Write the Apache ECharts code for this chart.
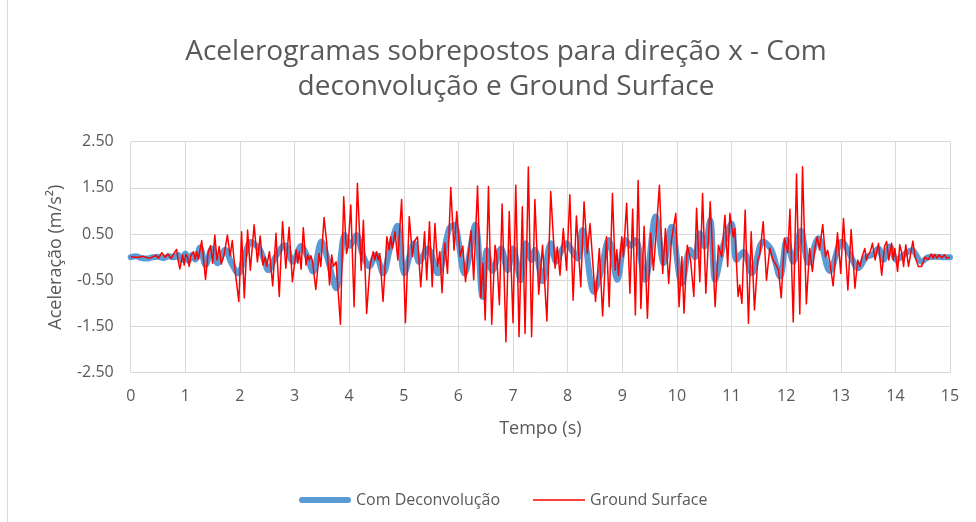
<!DOCTYPE html>
<html><head><meta charset="utf-8">
<script src="https://cdn.jsdelivr.net/npm/echarts@6/dist/echarts.min.js"></script>
<style>html,body{margin:0;padding:0;background:#fff}#c{width:976px;height:522px}</style>
</head><body><div id="c"></div><script>
const titleLines = ['Acelerogramas sobrepostos para direção x - Com', 'deconvolução e Ground Surface'];
const xAxisName = 'Tempo (s)';
const yAxisName = 'Aceleração (m/s²)';
const seriesNames = ['Com Deconvolução', 'Ground Surface'];

// "Com Deconvolução" (blue, thick) – time (s) and acceleration (m/s²)
const blueTime = [0.00,0.10,0.20,0.30,0.40,0.50,0.60,0.70,0.80,0.87,
  0.93,1.00,1.06,1.12,1.18,1.27,1.37,1.49,1.59,1.73,
  1.84,1.97,2.09,2.20,2.30,2.36,2.44,2.52,2.65,2.82,
  2.97,3.12,3.22,3.34,3.49,3.62,3.76,3.92,4.02,4.13,
  4.25,4.37,4.49,4.62,4.75,4.88,5.01,5.19,5.28,5.44,
  5.62,5.83,5.92,6.11,6.31,6.44,6.52,6.62,6.78,6.90,
  7.00,7.14,7.23,7.34,7.40,7.54,7.69,7.79,7.88,7.98,
  8.10,8.18,8.27,8.48,8.60,8.75,8.91,9.06,9.15,9.24,
  9.42,9.61,9.76,9.90,10.09,10.24,10.33,10.42,10.51,10.61,
  10.70,10.85,11.00,11.09,11.22,11.37,11.58,11.73,11.89,12.01,
  12.13,12.27,12.41,12.59,12.80,13.02,13.17,13.32,13.47,13.58,
  13.69,13.78,13.90,14.02,14.15,14.30,14.48,14.60,14.75,14.90,
  15.00];
const blueAccel = [0.00,0.02,-0.02,-0.03,0.00,0.01,-0.02,0.02,0.00,0.05,
  -0.06,0.08,-0.08,0.05,-0.05,0.21,-0.17,0.19,-0.13,0.16,
  -0.12,-0.35,0.05,0.33,0.25,0.18,-0.05,-0.28,0.00,0.26,
  -0.10,0.24,0.05,-0.31,0.34,-0.10,-0.67,0.48,0.25,0.48,
  0.05,-0.20,0.05,-0.35,0.20,0.68,-0.35,0.30,-0.10,0.19,
  -0.35,0.62,0.70,-0.35,0.70,-0.86,0.15,-0.30,0.19,-0.28,
  0.19,-0.50,0.30,-0.06,0.16,-0.52,0.30,-0.10,0.12,0.30,
  0.10,-0.03,0.59,-0.75,-0.35,0.37,-0.49,0.37,0.25,0.37,
  -0.49,0.88,-0.13,0.66,-0.57,0.16,0.00,0.52,0.23,0.80,
  -0.49,0.26,0.73,-0.06,0.12,-0.35,0.34,0.16,-0.42,0.38,
  -0.10,0.57,-0.12,0.41,-0.30,0.34,0.05,-0.24,0.01,0.05,
  0.19,-0.06,0.23,-0.06,0.05,0.15,-0.10,0.00,0.01,0.00,
  0.00];

// "Ground Surface" (red, thin) – time (s) and acceleration (m/s²)
const redTime = [0.00,0.08,0.15,0.23,0.32,0.38,0.46,0.51,0.57,0.63,
  0.68,0.74,0.79,0.84,0.87,0.90,0.95,0.98,1.01,1.04,
  1.07,1.10,1.15,1.18,1.21,1.24,1.30,1.37,1.42,1.46,
  1.50,1.54,1.58,1.62,1.66,1.71,1.77,1.82,1.86,1.91,
  1.98,2.03,2.08,2.14,2.19,2.26,2.32,2.37,
  2.42,2.46,2.49,2.54,2.60,2.66,2.72,2.78,2.84,2.90,
  2.96,3.03,3.06,3.09,3.12,3.16,3.21,3.24,3.27,3.30,
  3.33,3.39,3.45,3.48,3.54,3.59,3.64,3.68,3.71,3.76,
  3.84,3.90,3.95,3.98,4.03,4.09,4.15,4.22,4.26,4.32,
  4.38,4.44,4.47,4.50,4.53,4.56,4.62,4.69,4.73,4.76,
  4.79,4.84,
  4.89,4.96,5.03,5.10,5.16,5.19,5.25,5.31,5.38,5.42,
  5.47,5.52,5.57,5.62,5.66,5.70,5.75,5.80,5.86,5.92,
  5.97,6.03,6.08,6.13,6.18,6.23,6.28,6.35,6.41,6.45,
  6.49,6.55,6.61,6.67,6.70,6.75,6.80,6.87,6.93,7.00,
  7.05,7.11,7.17,7.22,7.28,7.34,7.40,7.47,7.54,7.62,
  7.69,
  7.77,7.81,7.86,7.92,7.98,8.04,8.10,8.16,8.24,8.30,
  8.36,8.41,8.47,8.51,8.58,8.64,8.71,8.76,8.82,8.87,
  8.90,8.93,8.99,9.02,9.08,9.14,9.19,9.24,9.29,9.34,
  9.40,9.46,9.52,9.57,9.62,9.68,9.74,9.79,9.85,9.90,
  9.93,9.98,
  10.04,10.09,10.13,10.19,10.25,10.31,10.36,10.42,10.47,10.53,
  10.61,10.70,10.76,10.82,10.88,10.93,10.97,11.03,11.06,11.12,
  11.15,11.19,11.25,11.31,11.36,11.42,11.48,11.52,11.58,11.64,
  11.70,11.76,11.83,11.86,11.91,11.97,12.03,12.07,12.13,12.19,
  12.25,12.30,12.37,12.43,12.48,12.53,12.57,12.61,12.67,12.72,
  12.76,12.80,12.86,
  12.94,13.00,13.05,13.13,13.19,13.26,13.31,13.35,13.39,13.44,
  13.47,13.50,13.54,13.58,13.63,13.69,13.75,13.80,13.84,13.88,
  13.93,13.96,13.99,14.04,14.08,14.12,14.15,14.19,14.24,14.27,
  14.32,14.36,14.42,14.48,14.54,14.60,14.66,14.69,14.72,14.76,
  14.80,14.85,14.90,14.94,15.00];
const redAccel = [0.01,0.00,0.00,0.02,-0.02,-0.01,0.04,-0.02,0.10,0.00,
  0.07,-0.03,0.08,0.17,-0.08,-0.25,0.05,-0.17,0.06,0.00,
  -0.20,0.03,0.12,-0.05,0.12,-0.04,0.36,-0.48,0.12,0.25,
  -0.13,0.48,-0.06,0.23,-0.15,0.05,0.48,0.03,0.36,-0.28,
  -0.96,0.55,-0.88,0.59,-0.28,0.70,-0.10,0.46,
  -0.17,0.00,-0.20,0.12,-0.62,0.52,-0.85,0.77,-0.24,0.65,
  -0.53,0.16,-0.13,0.12,-0.26,0.64,-0.17,0.05,-0.06,0.03,
  -0.10,-0.70,0.08,-0.20,0.86,0.30,-0.60,0.05,-0.20,-0.10,
  -1.45,1.31,0.08,0.23,1.13,-1.07,1.60,-0.28,0.80,-1.22,
  -0.20,0.12,-0.06,0.12,-0.06,0.08,-0.96,0.44,0.16,0.44,
  0.19,0.55,
  -0.06,1.25,-1.42,0.88,0.01,0.34,0.44,-0.64,0.55,-0.49,
  0.77,-0.64,0.73,-0.20,0.12,-0.77,0.31,-0.35,1.51,0.15,
  0.99,0.01,0.24,-0.53,0.05,0.57,-0.49,1.54,-0.87,-0.13,
  -1.36,1.53,-1.45,0.26,0.05,-1.03,1.15,-1.83,0.99,-1.42,
  1.56,-1.72,1.09,-1.65,1.95,-1.72,1.25,-0.80,0.26,-1.38,
  1.42,
  -0.24,0.22,-0.39,0.62,-0.28,1.35,-0.93,0.89,-0.64,1.20,
  0.08,0.73,-0.28,-0.96,0.19,-1.27,0.44,-1.07,1.38,-0.28,
  0.16,-0.39,0.44,0.01,1.17,-0.78,1.04,-1.25,1.66,-1.11,
  0.67,-1.32,0.52,-0.28,0.52,1.56,-0.35,0.62,-0.57,0.37,
  0.33,0.95,
  -1.07,0.01,-1.21,0.26,-0.06,-0.85,1.06,-0.53,1.38,-0.78,
  1.20,-1.07,0.26,0.01,0.91,-0.20,0.95,0.44,0.62,-0.85,
  -0.60,-1.00,1.02,-1.43,0.55,-1.14,-0.06,0.08,0.77,-0.50,
  0.20,-0.06,-0.20,-0.28,-0.88,0.41,0.10,1.04,-1.40,1.80,
  -1.23,1.96,-1.01,0.19,-0.31,0.23,0.44,0.16,0.71,0.01,
  0.15,-0.10,-0.62,
  0.53,-0.35,0.84,-0.71,0.60,-0.67,-0.06,-0.20,0.01,0.19,
  -0.06,0.05,0.12,0.30,-0.06,0.30,-0.39,0.23,0.34,-0.06,
  0.30,-0.06,0.19,-0.31,0.27,0.08,-0.20,0.27,-0.20,-0.24,
  0.35,0.01,-0.20,-0.20,0.00,-0.05,0.07,-0.02,0.06,-0.02,
  0.05,-0.01,0.05,-0.02,0.00];

const xMin = 0, xMax = 15, xStep = 1;
const yMin = -2.5, yMax = 2.5, yStep = 1;

const pair = (ts, vs) => ts.map((t, i) => [t, vs[i]]);
const FONT = '"Open Sans", "Liberation Sans", sans-serif';
const TXT = '#595959';

const chart = echarts.init(document.getElementById('c'), null, {renderer: 'canvas'});
chart.setOption({
  animation: false,
  backgroundColor: '#ffffff',
  textStyle: {fontFamily: FONT},
  title: {
    text: titleLines.join('\n'),
    left: 506,
    top: 35,
    padding: 0,
    textAlign: 'center',
    textStyle: {fontFamily: FONT, fontSize: 28, fontWeight: 'normal', color: TXT, lineHeight: 35}
  },
  graphic: [{
    type: 'rect', silent: true, z: -10,
    shape: {x: 7.5, y: -5, width: 1000, height: 600},
    style: {fill: 'none', stroke: '#d9d9d9', lineWidth: 1}
  }],
  legend: {
    data: [
      {name: seriesNames[0], icon: 'path://M3,0 L49,0 A3,3 0 0 1 49,6 L3,6 A3,3 0 0 1 3,0 Z'},
      {name: seriesNames[1], icon: 'path://M0,0 L52,0 L52,1.6 L0,1.6 Z'}
    ],
    left: 294, top: 487,
    itemWidth: 52, itemHeight: 14, itemGap: 33,
    textStyle: {fontFamily: FONT, fontSize: 16, color: TXT}
  },
  grid: {left: 130.7, right: 26, top: 141.7, bottom: 149.3, containLabel: false},
  xAxis: {
    type: 'value', min: xMin, max: xMax, interval: xStep,
    axisLine: {show: false}, axisTick: {show: false},
    axisLabel: {color: TXT, fontSize: 16, margin: 16, fontFamily: FONT},
    splitLine: {show: true, lineStyle: {color: '#d9d9d9', width: 1}},
    name: xAxisName, nameLocation: 'middle', nameGap: 47,
    nameTextStyle: {color: TXT, fontSize: 18, fontFamily: FONT}
  },
  yAxis: {
    type: 'value', min: yMin, max: yMax, interval: yStep,
    axisLine: {show: false}, axisTick: {show: false},
    axisLabel: {color: TXT, fontSize: 16, margin: 17, fontFamily: FONT, formatter: v => v.toFixed(2)},
    splitLine: {show: true, lineStyle: {color: '#d9d9d9', width: 1}},
    name: yAxisName, nameLocation: 'middle', nameGap: 66, nameRotate: 90,
    nameTextStyle: {color: TXT, fontSize: 18, fontFamily: FONT}
  },
  series: [
    {
      name: seriesNames[0], type: 'line', data: pair(blueTime, blueAccel),
      symbol: 'none', showSymbol: false, smooth: 0.35, z: 2,
      lineStyle: {color: '#5B9BD5', width: 6, cap: 'round', join: 'round'},
      itemStyle: {color: '#5B9BD5'}
    },
    {
      name: seriesNames[1], type: 'line', data: pair(redTime, redAccel),
      symbol: 'none', showSymbol: false, z: 3,
      lineStyle: {color: '#FF0000', width: 1.5, join: 'round'},
      itemStyle: {color: '#FF0000'}
    }
  ]
});
</script></body></html>
